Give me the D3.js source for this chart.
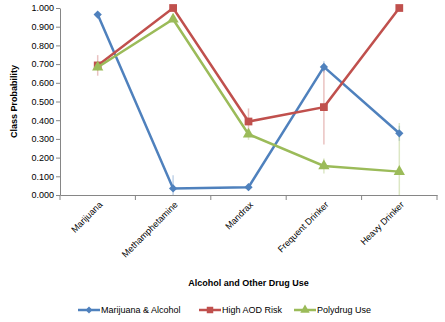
<!DOCTYPE html>
<html>
<head>
<meta charset="utf-8">
<script src="https://cdn.jsdelivr.net/npm/d3@7"></script>
<style>
  body { margin: 0; background: #fff; }
  text { font-family: "Liberation Sans", Arial, sans-serif; }
</style>
</head>
<body>
<div id="chart"></div>
<script>
const w = 445;
const h = 322;

const categories = ["Marijuana", "Methamphetamine", "Mandrax", "Frequent Drinker", "Heavy Drinker"];
const seriesNames = ["Marijuana & Alcohol", "High AOD Risk", "Polydrug Use"];
const marijuanaAlcohol = [0.965, 0.035, 0.042, 0.685, 0.330];
const highAOD = [0.693, 1.000, 0.393, 0.470, 1.000];
const polydrug = [0.683, 0.940, 0.325, 0.155, 0.125];
// error bar half-widths
const marijuanaAlcoholErr = [0.01, 0.07, 0.01, 0.03, 0.04];
const highAODErr = [0.055, 0.01, 0.07, 0.20, 0.0];
const polydrugErr = [0.02, 0.01, 0.03, 0.04, 0.26];
const yTicks = [0, 0.1, 0.2, 0.3, 0.4, 0.5, 0.6, 0.7, 0.8, 0.9, 1.0];

const colours = ["#4F81BD", "#C0504D", "#9BBB59"];
// diamond = square turned 45deg
const symbols = [d3.symbolSquare, d3.symbolSquare, d3.symbolTriangle];
const symbolSizes = [34, 60, 55];
const symbolRot = [45, 0, 0];

const series = [
    { name: seriesNames[0], values: marijuanaAlcohol, err: marijuanaAlcoholErr },
    { name: seriesNames[1], values: highAOD, err: highAODErr },
    { name: seriesNames[2], values: polydrug, err: polydrugErr }
];

const margin = { left: 60, right: 8, top: 8, bottom: 127 };

const svg = d3.select("#chart")
    .append("svg")
    .attr("width", w)
    .attr("height", h);

const x = d3.scaleBand()
    .domain(categories)
    .range([margin.left, w - margin.right]);

const y = d3.scaleLinear()
    .domain([0, 1])
    .range([h - margin.bottom, margin.top]);

// y axis
const yAxis = svg.append("g")
    .attr("transform", "translate(" + margin.left + ",0)")
    .call(d3.axisLeft(y).tickValues(yTicks).tickFormat(d3.format(".3f")).tickSize(4).tickSizeOuter(0));
yAxis.select(".domain").attr("stroke", "#868686");
yAxis.selectAll(".tick line").attr("stroke", "#868686");
yAxis.selectAll("text").attr("font-size", 9).attr("fill", "#000").attr("x", -6);

// x axis
const xAxis = svg.append("g")
    .attr("transform", "translate(0," + y(0) + ")")
    .call(d3.axisBottom(x).tickSize(0).tickSizeOuter(0));
xAxis.select(".domain").attr("stroke", "#868686");
xAxis.selectAll(".tick text")
    .attr("font-size", 9)
    .attr("fill", "#000")
    .attr("text-anchor", "end")
    .attr("transform", "translate(3,8) rotate(-45)")
    .attr("dy", "0.35em")
    .attr("y", 0);

// band boundary ticks
const bounds = categories.map(function(c) { return x(c); }).concat([x.range()[1]]);
svg.append("g").selectAll("line")
    .data(bounds)
    .enter()
    .append("line")
    .attr("x1", function(d) { return d; })
    .attr("x2", function(d) { return d; })
    .attr("y1", y(0))
    .attr("y2", y(0) + 5)
    .attr("stroke", "#868686");

const cx = function(i) { return x(categories[i]) + x.bandwidth() / 2; };

// error bars
series.forEach(function(s, si) {
    svg.append("g").selectAll("line")
        .data(s.values)
        .enter()
        .append("line")
        .attr("x1", function(d, i) { return cx(i); })
        .attr("x2", function(d, i) { return cx(i); })
        .attr("y1", function(d, i) { return y(Math.min(1, d + s.err[i])); })
        .attr("y2", function(d, i) { return y(Math.max(0, d - s.err[i])); })
        .attr("stroke", colours[si])
        .attr("stroke-opacity", 0.35)
        .attr("stroke-width", 1.5);
});

const line = d3.line()
    .x(function(d, i) { return cx(i); })
    .y(function(d) { return y(d); });

series.forEach(function(s, si) {
    svg.append("path")
        .datum(s.values)
        .attr("fill", "none")
        .attr("stroke", colours[si])
        .attr("stroke-width", 2.5)
        .attr("d", line);

    svg.append("g").selectAll("path")
        .data(s.values)
        .enter()
        .append("path")
        .attr("transform", function(d, i) {
            return "translate(" + cx(i) + "," + y(d) + ") rotate(" + symbolRot[si] + ")";
        })
        .attr("d", d3.symbol().type(symbols[si]).size(symbolSizes[si]))
        .attr("fill", colours[si]);
});

// axis titles
svg.append("text")
    .attr("x", (margin.left + w - margin.right) / 2 + 0)
    .attr("y", 286)
    .attr("text-anchor", "middle")
    .attr("font-size", 9)
    .attr("font-weight", "bold")
    .text("Alcohol and Other Drug Use");

svg.append("text")
    .attr("transform", "translate(17," + ((margin.top + y(0)) / 2) + ") rotate(-90)")
    .attr("text-anchor", "middle")
    .attr("font-size", 9)
    .attr("font-weight", "bold")
    .text("Class Probability");

// legend
const legendX = [78, 199, 294];
const legend = svg.append("g").selectAll("g")
    .data(series)
    .enter()
    .append("g")
    .attr("transform", function(d, i) { return "translate(" + legendX[i] + ",310)"; });

legend.append("line")
    .attr("x1", 0).attr("x2", 22)
    .attr("stroke", function(d, i) { return colours[i]; })
    .attr("stroke-width", 2.5);
legend.append("path")
    .attr("transform", function(d, i) { return "translate(11,0) rotate(" + symbolRot[i] + ")"; })
    .attr("d", function(d, i) { return d3.symbol().type(symbols[i]).size(symbolSizes[i] * 0.7)(); })
    .attr("fill", function(d, i) { return colours[i]; });
legend.append("text")
    .attr("x", 23)
    .attr("dy", "0.35em")
    .attr("font-size", 9)
    .text(function(d) { return d.name; });
</script>
</body>
</html>
